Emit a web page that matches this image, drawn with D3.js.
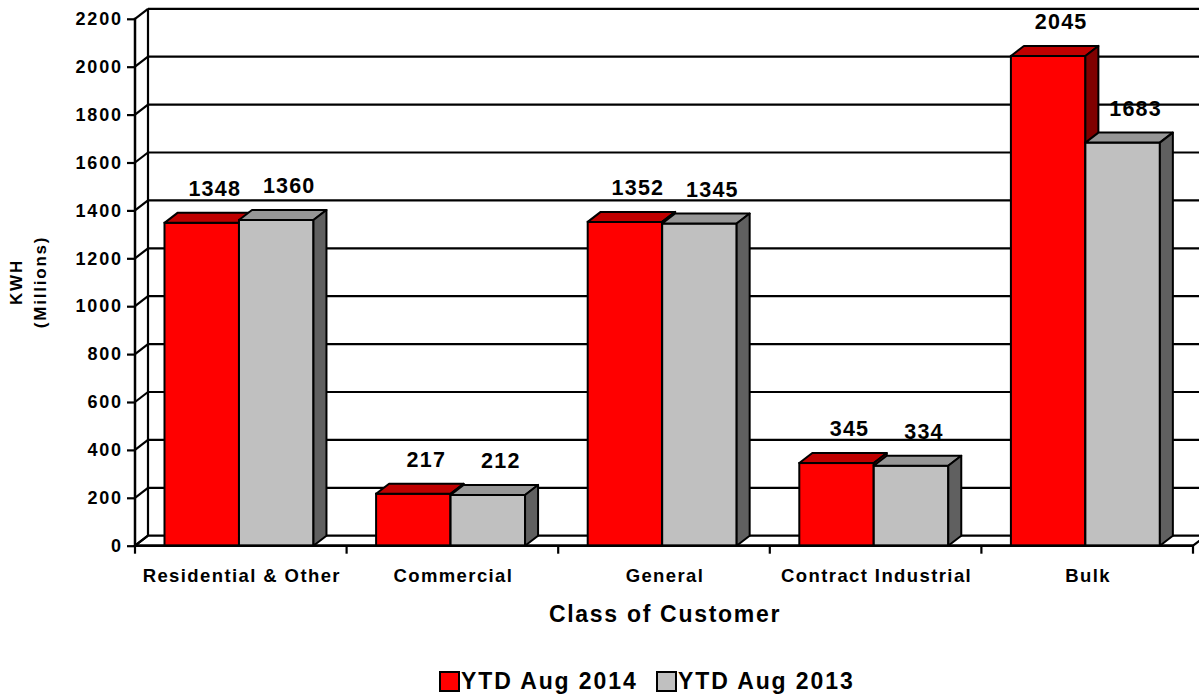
<!DOCTYPE html>
<html>
<head>
<meta charset="utf-8">
<script src="https://cdn.jsdelivr.net/npm/d3@7"></script>
<style>
  html, body { margin: 0; padding: 0; background: #fff; }
  svg text { font-family: "Liberation Sans", Arial, sans-serif; font-weight: bold; fill: #000; }
</style>
</head>
<body>
<svg id="chart" width="1199" height="695"></svg>
<script>
// ---- data ----
const categories = ["Residential & Other", "Commercial", "General", "Contract Industrial", "Bulk"];
const seriesNames = ["YTD Aug 2014", "YTD Aug 2013"];
const values2014 = [1348, 217, 1352, 345, 2045];
const values2013 = [1360, 212, 1345, 334, 1683];
const yTicks = [0, 200, 400, 600, 800, 1000, 1200, 1400, 1600, 1800, 2000, 2200];
const xTitle = "Class of Customer";
const yTitleLines = ["KWH", "(Millions)"];

// ---- layout ----
const svg = d3.select("#chart");
const plotLeft = 135, plotRight = 1193, plotBottom = 545.7, plotTop = 18.8;
const dx = 13, dy = -10; // 3D depth
const faces = {
  "YTD Aug 2014": { front: "#FF0000", top: "#C00000", side: "#800000" },
  "YTD Aug 2013": { front: "#C0C0C0", top: "#969696", side: "#606060" }
};

const y = d3.scaleLinear().domain([0, 2200]).range([plotBottom, plotTop]);
const x0 = d3.scaleBand().domain(categories).range([plotLeft, plotRight]).padding(0);
const bw = x0.bandwidth();
const x1 = d3.scaleBand().domain(seriesNames).range([bw * 0.1394, bw * 0.1394 + bw * 0.704]).padding(0);

const data = categories.map((c, i) => ({
  cat: c,
  vals: [
    { s: seriesNames[0], v: values2014[i] },
    { s: seriesNames[1], v: values2013[i] }
  ]
}));

// ---- walls & floor ----
const g = svg.append("g");
g.append("path")
  .attr("d", `M${plotLeft},${plotBottom} L${plotLeft + dx},${plotBottom + dy} L${plotRight + dx},${plotBottom + dy} L${plotRight},${plotBottom} Z`)
  .attr("fill", "#fff").attr("stroke", "#000").attr("stroke-width", 2.2);

g.selectAll("line.grid").data(yTicks.filter(t => t > 0)).join("line")
  .attr("class", "grid")
  .attr("x1", plotLeft + dx).attr("x2", plotRight + dx)
  .attr("y1", d => y(d) + dy).attr("y2", d => y(d) + dy)
  .attr("stroke", "#000").attr("stroke-width", 2.2);
g.selectAll("line.diag").data(yTicks).join("line")
  .attr("class", "diag")
  .attr("x1", plotLeft).attr("x2", plotLeft + dx)
  .attr("y1", d => y(d)).attr("y2", d => y(d) + dy)
  .attr("stroke", "#000").attr("stroke-width", 2.2);
g.append("line")
  .attr("x1", plotLeft + dx).attr("x2", plotLeft + dx)
  .attr("y1", y(0) + dy).attr("y2", y(2200) + dy)
  .attr("stroke", "#000").attr("stroke-width", 2.2);

// ---- bars ----
const bars = svg.append("g");
data.forEach(d => {
  d.vals.forEach(b => {
    const xl = x0(d.cat) + x1(b.s);
    const w = x1.bandwidth();
    const yTopBar = y(b.v);
    const f = faces[b.s];
    const gb = bars.append("g");
    gb.append("rect")
      .attr("x", xl).attr("y", yTopBar).attr("width", w).attr("height", y(0) - yTopBar)
      .attr("fill", f.front).attr("stroke", "#000").attr("stroke-width", 2);
    gb.append("path")
      .attr("d", `M${xl},${yTopBar} L${xl + dx},${yTopBar + dy} L${xl + w + dx},${yTopBar + dy} L${xl + w},${yTopBar} Z`)
      .attr("fill", f.top).attr("stroke", "#000").attr("stroke-width", 2).attr("stroke-linejoin", "round");
    gb.append("path")
      .attr("d", `M${xl + w},${yTopBar} L${xl + w + dx},${yTopBar + dy} L${xl + w + dx},${y(0) + dy} L${xl + w},${y(0)} Z`)
      .attr("fill", f.side).attr("stroke", "#000").attr("stroke-width", 2).attr("stroke-linejoin", "round");
  });
});

// value labels
svg.append("g").selectAll("text")
  .data(data.flatMap(d => d.vals.map(b => ({ cat: d.cat, ...b }))))
  .join("text")
  .attr("x", d => x0(d.cat) + x1(d.s) + x1.bandwidth() / 2 + 13)
  .attr("y", d => y(d.v) - 27)
  .attr("text-anchor", "middle")
  .style("font-size", "21.5px").style("letter-spacing", "1.2px")
  .text(d => d.v);

// ---- y axis ----
const yAxis = svg.append("g").attr("transform", `translate(${plotLeft},0)`)
  .call(d3.axisLeft(y).tickValues(yTicks).tickSize(8).tickPadding(6).tickFormat(d3.format("d")));
yAxis.select(".domain").remove();
yAxis.selectAll(".tick line").attr("stroke", "#000").attr("stroke-width", 2.2);
yAxis.selectAll(".tick text")
  .style("font-size", "18px").style("letter-spacing", "1.8px")
  .style("font-family", "'Liberation Sans', Arial, sans-serif").style("font-weight", "bold")
  .attr("dx", "1.8px");
yAxis.append("line").attr("x1", 0).attr("x2", 0).attr("y1", y(0) + 1).attr("y2", y(2200) - 1)
  .attr("stroke", "#000").attr("stroke-width", 2.5);

// ---- x axis ----
const xAxisG = svg.append("g");
xAxisG.append("line").attr("x1", plotLeft - 1).attr("x2", plotRight + 1).attr("y1", plotBottom).attr("y2", plotBottom)
  .attr("stroke", "#000").attr("stroke-width", 2.5);
const bounds = categories.map(c => x0(c)).concat([plotRight]);
xAxisG.selectAll("line.xt").data(bounds).join("line")
  .attr("class", "xt")
  .attr("x1", d => d).attr("x2", d => d)
  .attr("y1", plotBottom).attr("y2", plotBottom + 8)
  .attr("stroke", "#000").attr("stroke-width", 2.2);
xAxisG.selectAll("text.cat").data(categories).join("text")
  .attr("class", "cat")
  .attr("x", d => x0(d) + bw / 2 + 1)
  .attr("y", 582)
  .attr("text-anchor", "middle")
  .style("font-size", "18.5px").style("letter-spacing", "1.4px")
  .text(d => d);

// axis titles
svg.append("text")
  .attr("x", (plotLeft + plotRight) / 2 + 1).attr("y", 622)
  .attr("text-anchor", "middle")
  .style("font-size", "23px").style("letter-spacing", "1.7px")
  .text(xTitle);

const yTitle = svg.append("text")
  .attr("transform", "translate(0,282) rotate(-90)")
  .attr("text-anchor", "middle")
  .style("font-size", "17px").style("letter-spacing", "1.8px");
yTitleLines.forEach((t, i) => {
  yTitle.append("tspan").attr("x", 0).attr("y", 22 + i * 24).text(t);
});

// ---- legend ----
const legend = svg.append("g");
const legendX = [440, 657];
seriesNames.forEach((s, i) => {
  const lg = legend.append("g").attr("transform", `translate(${legendX[i]},672)`);
  lg.append("rect").attr("x", 0).attr("y", 0).attr("width", 19).attr("height", 19)
    .attr("fill", faces[s].front).attr("stroke", "#000").attr("stroke-width", 2);
  lg.append("text").attr("x", 21).attr("y", 17)
    .style("font-size", "23px").style("letter-spacing", "1.9px")
    .text(s);
});
</script>
</body>
</html>
